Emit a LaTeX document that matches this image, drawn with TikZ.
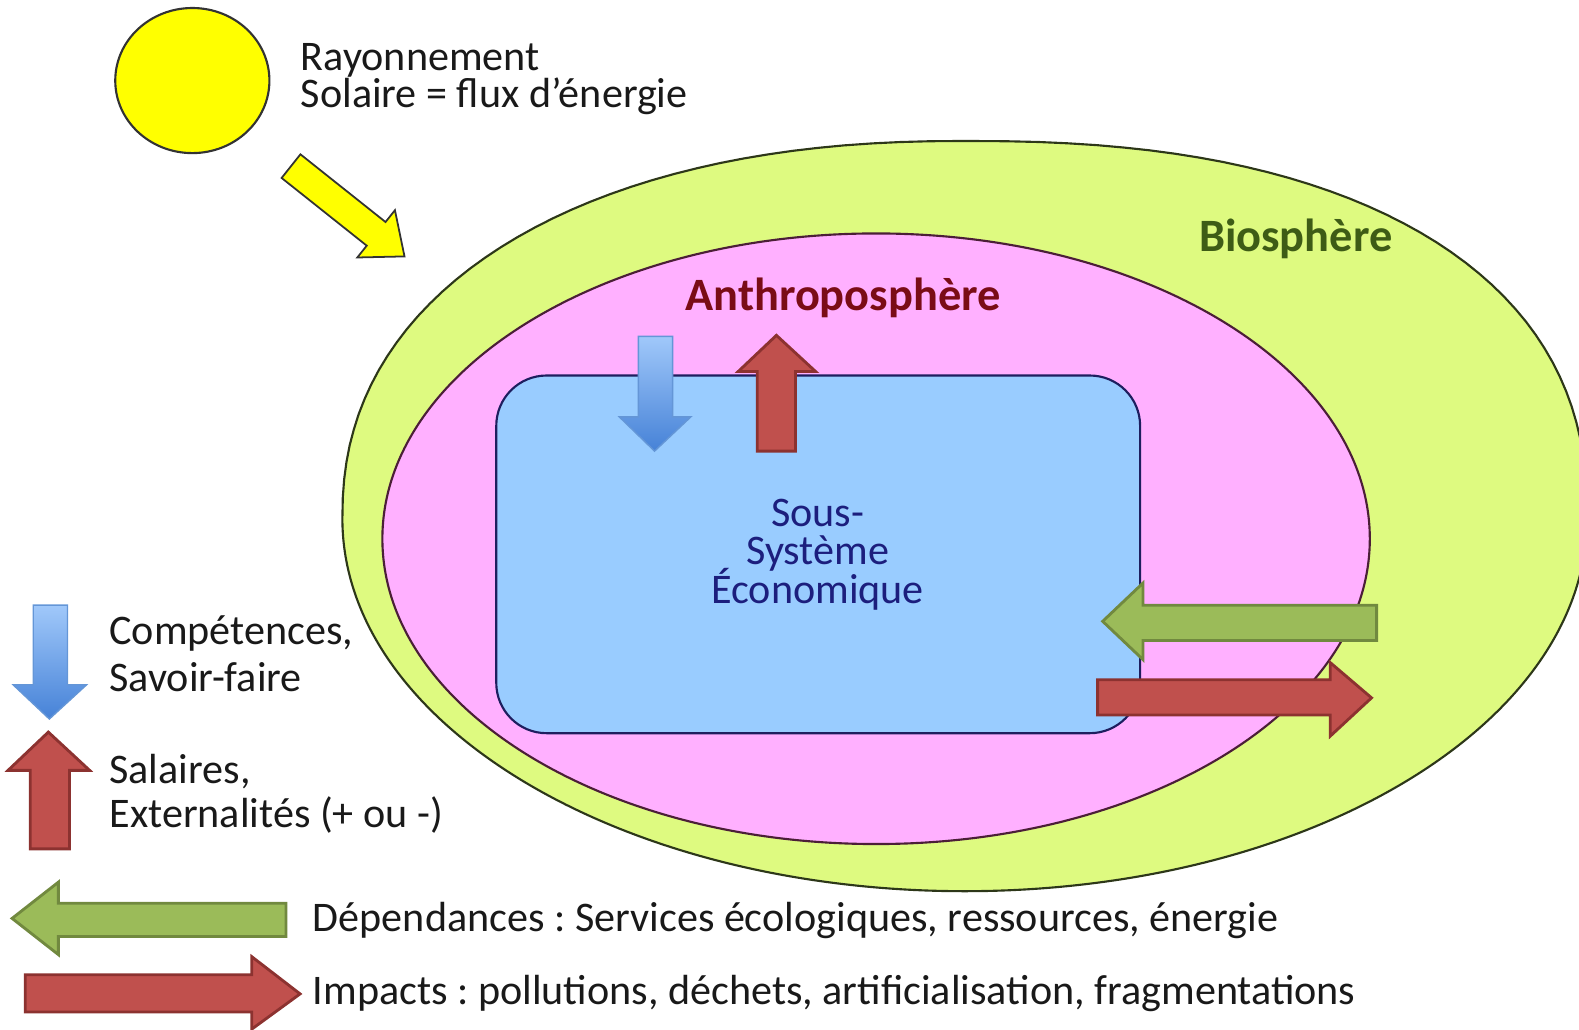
\documentclass[tikz,border=0pt]{standalone}
\usepackage{fontspec}
\setmainfont{Carlito}
\usetikzlibrary{shapes.geometric}
\frenchspacing

\definecolor{biofill}{RGB}{222,250,128}
\definecolor{bioline}{RGB}{45,55,25}
\definecolor{biotext}{RGB}{62,92,22}
\definecolor{anthfill}{RGB}{255,176,255}
\definecolor{anthline}{RGB}{75,30,55}
\definecolor{anthtext}{RGB}{122,12,22}
\definecolor{ecofill}{RGB}{153,204,255}
\definecolor{ecoline}{RGB}{30,30,95}
\definecolor{ecotext}{RGB}{28,30,125}
\definecolor{sunfill}{RGB}{255,255,0}
\definecolor{redfill}{RGB}{192,80,77}
\definecolor{redline}{RGB}{140,50,48}
\definecolor{greenfill}{RGB}{155,187,89}
\definecolor{greenline}{RGB}{113,137,63}
\definecolor{bluetop}{RGB}{160,200,250}
\definecolor{bluebottom}{RGB}{70,130,215}
\definecolor{blueline}{RGB}{100,150,215}

\tikzset{
  tightlines/.style={execute at begin node={\lineskiplimit=-100pt}},
  bodytext/.style={anchor=base west, align=left, text=black!90, tightlines, font=\fontsize{11.9}{13.4}\selectfont},
  spheretext/.style={anchor=base west, font=\bfseries\fontsize{13.1}{15}\selectfont},
  redarrow/.style={fill=redfill, draw=redline, line width=0.8pt},
  greenarrow/.style={fill=greenfill, draw=greenline, line width=0.8pt},
  bluearrow/.style={top color=bluetop, bottom color=bluebottom, draw=blueline, line width=0.4pt},
  sunarrow/.style={fill=sunfill, draw=black!80, line width=0.5pt}
}

\begin{document}
\begin{tikzpicture}[x=0.01cm,y=0.01cm]
\tikzstyle{every node}+=[inner sep=0pt]
\useasboundingbox (0,0) rectangle (1568,-1022);
% biosphere: a little fuller on top, plain ellipse below
\draw [draw=bioline, fill=biofill, line width=0.6pt]
  plot [domain=0:90, samples=40] ({958+618*pow(cos(\x)+0.00001,0.85)}, {-515+375*pow(sin(\x)+0.00001,0.85)})
  -- plot [domain=90:180, samples=40] ({958-618*pow(abs(cos(\x))+0.00001,0.9)}, {-515+375*pow(sin(\x)+0.00001,0.9)})
  arc [start angle=180, end angle=360, x radius=618, y radius=370] -- cycle;
% spheres
\node [ellipse, draw=anthline, fill=anthfill, line width=0.6pt, minimum width=9.80cm, minimum height=6.06cm] (anthro) at (870,-535) {};
\node [rectangle, rounded corners=0.5cm, draw=ecoline, fill=ecofill, line width=0.6pt, minimum width=6.39cm, minimum height=3.55cm] (eco) at (812.5,-550.5) {};
% sun
\node [ellipse, draw=black!80, fill=sunfill, line width=0.6pt, minimum width=1.53cm, minimum height=1.44cm] (soleil) at (191,-80) {};
\begin{scope}[shift={(289,-165)}, rotate=-38.5]
\draw[sunarrow] (0,15) -- (108,15) -- (108,30) -- (144,0) -- (108,-30) -- (108,-15) -- (0,-15) -- cycle;
\end{scope}
% flows inside
\draw[bluearrow] (634,-334) -- (668,-334) -- (668,-414) -- (686,-414) -- (650,-448) -- (615,-414) -- (634,-414) -- cycle;
\draw[redarrow] (752,-448) -- (790,-448) -- (790,-369) -- (810,-369) -- (771,-333) -- (733,-369) -- (752,-369) -- cycle;
\draw[greenarrow] (1367,-601) -- (1135,-601) -- (1135,-579) -- (1095,-617) -- (1135,-655) -- (1135,-636) -- (1367,-636) -- cycle;
\draw[redarrow] (1090,-675) -- (1321,-675) -- (1321,-658) -- (1362,-693) -- (1321,-731) -- (1321,-710) -- (1090,-710) -- cycle;
% legend arrows
\draw[bluearrow] (33,-601) -- (67,-601) -- (67,-680) -- (86,-680) -- (49,-714) -- (13,-680) -- (33,-680) -- cycle;
\draw[redarrow] (30,-843) -- (69,-843) -- (69,-765) -- (89,-765) -- (48,-727) -- (8,-765) -- (30,-765) -- cycle;
\draw[greenarrow] (284,-897) -- (58,-897) -- (58,-876) -- (12,-912) -- (58,-948) -- (58,-930) -- (284,-930) -- cycle;
\draw[redarrow] (25,-968) -- (250,-968) -- (250,-950) -- (298,-987) -- (250,-1022) -- (250,-1005) -- (25,-1005) -- cycle;
% labels (base = last line)
\node [bodytext, font=\fontsize{11.9}{10.5}\selectfont] (rayonnement) at (298,-107) {Rayonnement\\Solaire = flux d’énergie};
\node [spheretext, text=biotext] (biolabel) at (1190,-250) {Biosphère};
\node [spheretext, text=anthtext] (anthrolabel) at (680,-308) {Anthroposphère};
\node [anchor=base, align=center, text=ecotext, tightlines, font=\fontsize{11.9}{10.8}\selectfont] (ecolabel) at (812,-599) {Sous-\\Système\\Économique};
\node [bodytext] (legcomp) at (108,-687) {Compétences,\\Savoir-faire};
\node [bodytext, font=\fontsize{11.9}{12.5}\selectfont] (legsal) at (108,-822) {Salaires,\\Externalités (+ ou -)};
\node [bodytext] (legdep) at (310,-925) {Dépendances : Services écologiques, ressources, énergie};
\node [bodytext] (legimp) at (310,-998) {Impacts : pollutions, déchets, artificialisation, fragmentations};
\end{tikzpicture}
\end{document}
